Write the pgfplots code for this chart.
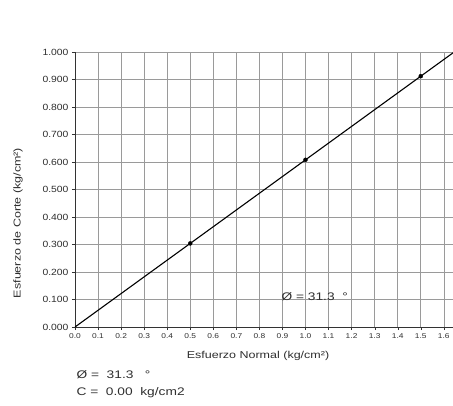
\documentclass[border=0pt]{standalone}
\usepackage{pgfplots}
\pgfplotsset{compat=1.18}
\usepackage{fontspec}
\setmainfont{Liberation Sans}
\usepackage{graphicx}
\definecolor{txt}{HTML}{2E2E2E}
\definecolor{gridc}{HTML}{9A9A9A}
\begin{document}
\begin{tikzpicture}
\useasboundingbox (-75pt,-78pt) rectangle (378pt,327pt);
\begin{axis}[
  at={(0,0)}, anchor=south west,
  scale only axis, width=378pt, height=275pt,
  xmin=0, xmax=1.64, ymin=0, ymax=1.0,
  xtick={0,0.1,0.2,0.3,0.4,0.5,0.6,0.7,0.8,0.9,1.0,1.1,1.2,1.3,1.4,1.5,1.6},
  ytick={0,0.1,0.2,0.3,0.4,0.5,0.6,0.7,0.8,0.9,1.0},
  axis x line*=bottom, axis y line*=left,
  axis line style={black!80, line width=0.8pt},
  grid=major, major grid style={gridc, line width=0.5pt},
  tick align=outside, major tick length=3pt, tick style={black!80},
  /pgf/number format/assume math mode=true,
  xticklabel={\scalebox{1.2}[1]{\pgfmathprintnumber[fixed,fixed zerofill,precision=1]{\tick}}},
  yticklabel={\scalebox{1.15}[1]{\pgfmathprintnumber[fixed,fixed zerofill,precision=3]{\tick}}},
  xticklabel style={font=\fontsize{7}{8}\selectfont, text=txt},
  yticklabel style={font=\fontsize{9}{10}\selectfont, text=txt},
  clip=true,
]
\addplot[black, line width=1.1pt] coordinates {(0,0) (1.65,1.003)};
\addplot[only marks, mark=*, mark size=2pt, black] coordinates {
  (0.5,0.304) (1.0,0.608) (1.5,0.912)};
\node[text=txt, font=\fontsize{11}{12}\selectfont, inner sep=1pt] at (axis cs:1.04,0.11) {\scalebox{1.25}[1]{Ø = 31.3 \ °}};
\end{axis}
\node[text=txt, font=\fontsize{10}{11}\selectfont] at (183pt,-29pt) {\scalebox{1.25}[1]{Esfuerzo Normal (kg/cm²)}};
\node[text=txt, font=\fontsize{10}{11}\selectfont, rotate=90] at (-57pt,104pt) {\scalebox{1.25}[1]{Esfuerzo de Corte (kg/cm²)}};
\node[text=txt, font=\fontsize{11}{12}\selectfont, anchor=west] at (-2pt,-48pt) {\scalebox{1.25}[1]{Ø = \ 31.3 \ \ °}};
\node[text=txt, font=\fontsize{11}{12}\selectfont, anchor=west] at (-2pt,-66pt) {\scalebox{1.25}[1]{C = \ 0.00 \ kg/cm2}};
\end{tikzpicture}
\end{document}
